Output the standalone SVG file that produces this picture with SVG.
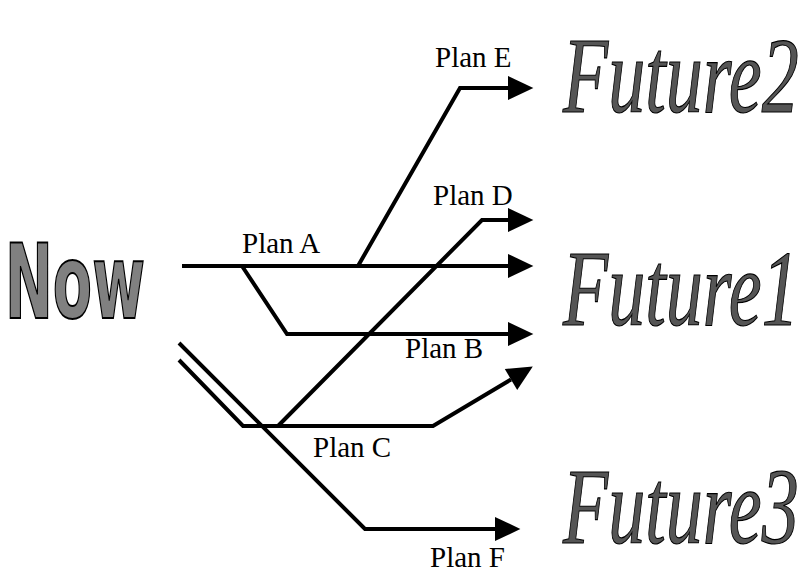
<svg xmlns="http://www.w3.org/2000/svg" width="812" height="578" viewBox="0 0 812 578">
<style>
.bg{fill:#ffffff}
.conn{fill:none;stroke:#000;stroke-width:4;stroke-linejoin:miter;marker-end:url(#ah)}
.lbl{font-family:"Liberation Serif","Times New Roman",serif;font-size:29px;fill:#000}
.now{font-family:"DejaVu Sans","Liberation Sans",sans-serif;font-weight:bold;font-size:104px;fill:#808080;stroke:#000;stroke-width:2}
.fut{font-family:"Liberation Serif","DejaVu Serif",serif;font-style:italic;font-size:74px;fill:#555;stroke:#000;stroke-width:0.8}
</style>
<defs>
<marker id="ah" markerUnits="userSpaceOnUse" markerWidth="30" markerHeight="30" viewBox="-2 -12 26 24" refX="0" refY="0" orient="auto">
<path d="M0,-10.5 L22,0 L0,10.5 Z" fill="#000"/>
</marker>
</defs>
<rect class="bg" x="0" y="0" width="812" height="578"/>
<g id="now"><text class="now" transform="translate(5,318) scale(0.55,1)" x="0" y="0">Now</text></g>
<g id="future2"><text class="fut" transform="translate(563,112) scale(1.0,1.45)" x="0" y="0">Future2</text></g>
<g id="future1"><text class="fut" transform="translate(563,325) scale(1.0,1.45)" x="0" y="0">Future1</text></g>
<g id="future3"><text class="fut" transform="translate(563,543) scale(1.0,1.45)" x="0" y="0">Future3</text></g>
<g id="connectors">
<path class="conn" d="M182,266 H508"/>
<path class="conn" d="M242,266 L287,334 H508"/>
<path class="conn" d="M358,266 L460,88 H508"/>
<path class="conn" d="M278,426 L482,220 H508"/>
<path class="conn" d="M179,360 L243,426 H433 L511,379.5"/>
<path class="conn" d="M179,343 L365,529 H495"/>
<text class="lbl" x="242" y="253">Plan A</text>
<text class="lbl" x="405" y="358">Plan B</text>
<text class="lbl" x="313" y="457">Plan C</text>
<text class="lbl" x="433" y="205">Plan D</text>
<text class="lbl" x="435" y="67">Plan E</text>
<text class="lbl" x="430" y="567">Plan F</text>
</g>
</svg>
